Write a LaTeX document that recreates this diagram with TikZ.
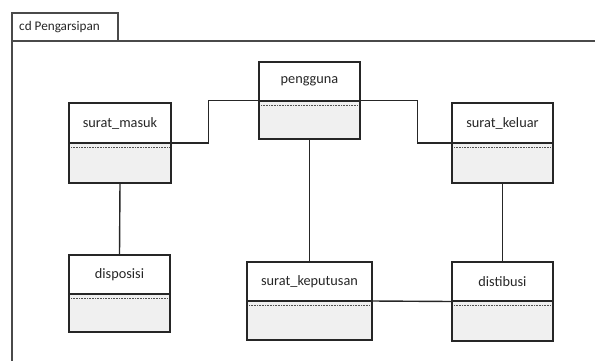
\documentclass[tikz,border=0pt]{standalone}
\usepackage{fontspec}
\setmainfont{Carlito}
\definecolor{boxcol}{HTML}{262626}
\definecolor{framecol}{HTML}{4A4A4A}
\definecolor{compfill}{HTML}{F0F0F0}
\tikzset{
  classbox/.style={draw=boxcol, line width=1.3pt, inner sep=0pt, rectangle},
  classname/.style={font=\fontsize{14.3}{16}\selectfont, text=black!85, inner sep=0pt},
  divider/.style={draw=boxcol, line width=1.3pt},
  dotline/.style={draw=boxcol!80, line width=0.8pt, dash pattern=on 1pt off 0.6pt},
  link/.style={draw=boxcol, line width=1.4pt},
  frameline/.style={draw=framecol, line width=1.6pt},
}
% #1 node name, #2 label, #3 left, #4 top, #5 right, #6 divider y, #7 bottom
\newcommand\umlclass[7]{%
  \fill[compfill] (#3,#6) rectangle (#5,#7);
  \draw[divider] (#3,#6) -- (#5,#6);
  \draw[dotline] (#3+2,#6+4) -- (#5-2,#6+4);
  \node[classbox, minimum width={(#5-#3)*1pt}, minimum height={(#7-#4)*1pt}]
    (#1) at ({(#3+#5)/2},{(#4+#7)/2}) {};
  \node[classname] (#1-name) at ({(#3+#5)/2},{(#4+#6)/2}) {#2};
}
\begin{document}
\begin{tikzpicture}[x=1pt,y=-1pt]
\useasboundingbox (0,0) rectangle (595,360);

% package frame with its tab
\draw[frameline] (12,362) -- (12,41) -- (597,41);
\draw[frameline] (12,41) -- (12,13) -- (118,13) -- (118,41);
\node[anchor=west, inner sep=0pt, font=\fontsize{13.2}{15}\selectfont, text=black!85]
  (pkg) at (19,27.5) {cd Pengarsipan};

% classes
\umlclass{masuk}{surat\_masuk}{69}{103}{171}{143}{183}
\umlclass{pengguna}{pengguna}{259}{62}{360}{101}{139}
\umlclass{keluar}{surat\_keluar}{452}{103}{553}{143}{183}
\umlclass{disposisi}{disposisi}{69}{255}{170}{294}{332}
\umlclass{keputusan}{surat\_keputusan}{247}{262}{372}{301}{340}
\umlclass{distibusi}{distibusi}{452}{262}{553}{301}{341}

% associations
\draw[link] (masuk.east) -- ++(37,0) |- (pengguna.west);
\draw[link] (pengguna.east) -- ++(57,0) |- (keluar.west);
\draw[link] (masuk.south) -- (disposisi.north);
\draw[link] (pengguna.south) -- (keputusan.north);
\draw[link] (keluar.south) -- (distibusi.north);
\draw[link] (keputusan.east) -- (distibusi.west);
\end{tikzpicture}
\end{document}
